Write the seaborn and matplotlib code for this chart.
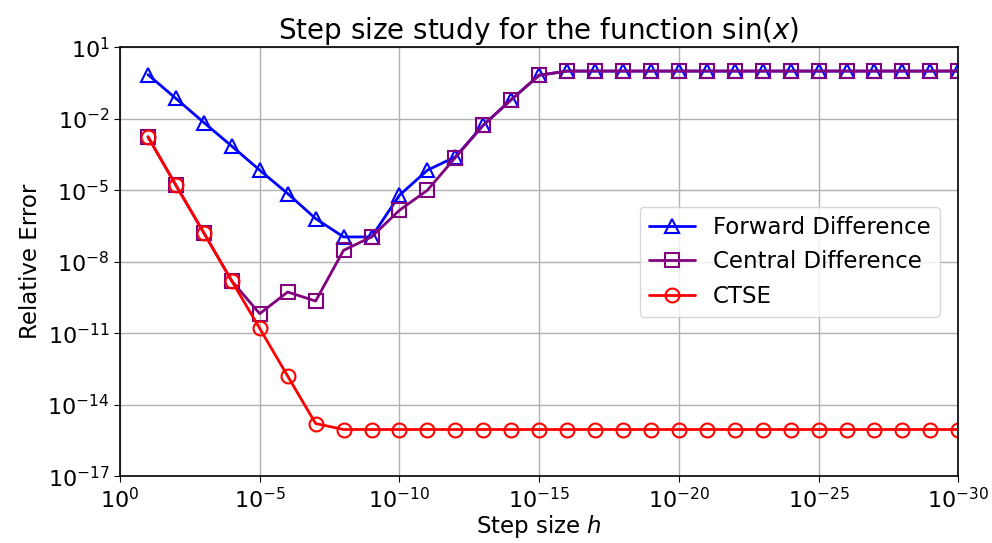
import numpy as np
import pandas as pd
import matplotlib
matplotlib.use("Agg")
import matplotlib.pyplot as plt
import matplotlib.ticker as mticker
import seaborn as sns

# Step sizes h = 1e-1 ... 1e-30
h_exp = list(range(-1, -31, -1))

# log10 of relative error
forward_log = [-0.15, -1.15, -2.16, -3.15, -4.16, -5.14, -6.19, -6.96, -6.96,
               -5.21, -4.16, -3.6, -2.27, -1.2, -0.175] + [0.0] * 15
central_log = [-2.76, -4.79, -6.79, -8.81, -10.18, -9.27, -9.65, -7.52, -6.96,
               -5.84, -5.0, -3.63, -2.27, -1.2, -0.175] + [0.0] * 15
ctse_log = [-2.76, -4.79, -6.79, -8.81, -10.8, -12.8, -14.79] + [-15.04] * 23

h = 10.0 ** np.array(h_exp, dtype=float)
forward = 10.0 ** np.array(forward_log)
central = 10.0 ** np.array(central_log)
ctse = 10.0 ** np.array(ctse_log)

sns.set_style("ticks")
plt.rcParams['font.family'] = ['DejaVu Sans']
plt.rcParams['mathtext.fontset'] = 'dejavusans'
plt.rcParams['text.color'] = 'black'
plt.rcParams['axes.labelcolor'] = 'black'
plt.rcParams['xtick.color'] = 'black'
plt.rcParams['ytick.color'] = 'black'

fig = plt.figure(figsize=(9.92, 5.43), dpi=100)
ax = fig.add_axes([0.121, 0.123, 0.845, 0.79])

common = dict(linewidth=2, markersize=10, markerfacecolor='none', markeredgewidth=1.5)
sns.lineplot(x=h, y=forward, ax=ax, color='blue', marker='^', markeredgecolor='blue',
             label='Forward Difference', sort=False, **common)
sns.lineplot(x=h, y=central, ax=ax, color='purple', marker='s', markeredgecolor='purple',
             label='Central Difference', sort=False, **common)
sns.lineplot(x=h, y=ctse, ax=ax, color='red', marker='o', markeredgecolor='red',
             label='CTSE', sort=False, **common)

ax.set_xscale('log')
ax.set_yscale('log')
ax.set_xlim(1e0, 1e-30)
ax.set_ylim(1e-17, 1e1)
ax.xaxis.set_major_locator(mticker.FixedLocator([10.0 ** e for e in range(0, -31, -5)]))
ax.yaxis.set_major_locator(mticker.FixedLocator([10.0 ** e for e in range(1, -18, -3)]))
ax.xaxis.set_minor_locator(mticker.NullLocator())
ax.yaxis.set_minor_locator(mticker.NullLocator())
ax.xaxis.set_major_formatter(mticker.LogFormatterSciNotation())
ax.yaxis.set_major_formatter(mticker.LogFormatterSciNotation())

ax.grid(True, color='#b0b0b0', linewidth=1)
ax.tick_params(labelsize=16, direction='out', length=4, colors='black')
for s in ax.spines.values():
    s.set_linewidth(1.2)
    s.set_color('black')

ax.set_xlabel('Step size $h$', fontsize=16.5, labelpad=1)
ax.set_ylabel('Relative Error', fontsize=16.5, labelpad=4)
ax.set_title('Step size study for the function sin($x$)', fontsize=20, pad=6)

leg = ax.legend(loc='center right', fontsize=16.5, frameon=True, borderaxespad=0.8)

fig.savefig('out.png', dpi=100)
